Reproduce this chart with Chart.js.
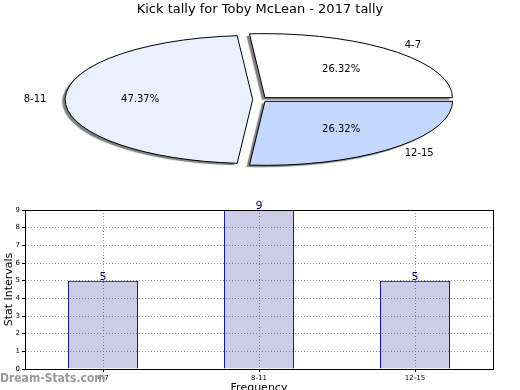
<!DOCTYPE html>
<html lang="en">
<head>
    <meta charset="UTF-8">
    <title>Kick tally</title>
    <script src="https://cdn.jsdelivr.net/npm/chart.js"></script>
    <style>
        html, body { margin:0; padding:0; background:#fff; overflow:hidden; }
        #wrap { position:relative; width:520px; height:390px; overflow:hidden; }
        #pieChart { position:absolute; left:0; top:0; }
        #barChart { position:absolute; left:0; top:195px; }
        #mark { position:absolute; left:0; top:371px; font:bold 12px "DejaVu Sans Condensed", "DejaVu Sans", sans-serif; color:#999; }
    </style>
</head>
<body>
<div id="wrap">
    <canvas id="pieChart" width="520" height="195"></canvas>
    <canvas id="barChart" width="520" height="200"></canvas>
    <div id="mark">Dream-Stats.com</div>
</div>

<script>
    // data
    const categories = ['4-7', '8-11', '12-15'];
    const tally = [5, 9, 5];
    const sliceColors = ['#ffffff', '#eaf1fe', '#c4d8fe'];
    const yTicks = [0, 1, 2, 3, 4, 5, 6, 7, 8, 9];

    const total = tally.reduce((a, b) => a + b, 0);
    const FONT = '"DejaVu Sans", sans-serif';

    // pie: drawn as a circle, stretched into an ellipse (x wide, y flipped so it runs counter-clockwise)
    const STRETCH = 2.93;
    const EXPLODE = 2.5;
    const toScreen = (cx, cy, x, y) => [cx + (x - cx) * STRETCH, cy - (y - cy)];
    const stretch = (ctx, arc) => {
        ctx.translate(arc.x, arc.y);
        ctx.scale(STRETCH, -1);
        ctx.translate(-arc.x, -arc.y);
    };

    const ellipsePlugin = {
        id: 'ellipse',
        beforeDatasetsDraw(chart) {
            const ctx = chart.ctx;
            const meta = chart.getDatasetMeta(0);
            // fills with a drop shadow
            meta.data.forEach((arc) => {
                const mid = (arc.startAngle + arc.endAngle) / 2;
                ctx.save();
                ctx.shadowColor = 'rgba(0,0,0,0.5)';
                ctx.shadowOffsetX = -3;
                ctx.shadowOffsetY = 2;
                ctx.shadowBlur = 1;
                stretch(ctx, arc);
                ctx.translate(EXPLODE * Math.cos(mid), EXPLODE * Math.sin(mid));
                arc.draw(ctx);
                ctx.restore();
            });
            // outlines, stroked in screen space so the line stays 1px
            meta.data.forEach((arc) => {
                const mid = (arc.startAngle + arc.endAngle) / 2;
                const ox = arc.x + EXPLODE * Math.cos(mid);
                const oy = arc.y + EXPLODE * Math.sin(mid);
                ctx.save();
                stretch(ctx, arc);
                ctx.beginPath();
                ctx.moveTo(ox, oy);
                ctx.arc(ox, oy, arc.outerRadius, arc.startAngle, arc.endAngle);
                ctx.closePath();
                ctx.restore();
                ctx.save();
                ctx.strokeStyle = '#000';
                ctx.lineWidth = 1;
                ctx.stroke();
                ctx.restore();
            });
            // labels
            ctx.save();
            ctx.fillStyle = '#000';
            ctx.font = '10px ' + FONT;
            ctx.textBaseline = 'middle';
            meta.data.forEach((arc, i) => {
                const mid = (arc.startAngle + arc.endAngle) / 2;
                const r = arc.outerRadius;
                let p = toScreen(arc.x, arc.y,
                    arc.x + (1.1 * r + EXPLODE) * Math.cos(mid),
                    arc.y + (1.1 * r + EXPLODE) * Math.sin(mid));
                ctx.textAlign = p[0] > arc.x ? 'left' : 'right';
                ctx.fillText(categories[i], p[0], p[1]);
                p = toScreen(arc.x, arc.y,
                    arc.x + (0.6 * r + EXPLODE) * Math.cos(mid),
                    arc.y + (0.6 * r + EXPLODE) * Math.sin(mid));
                ctx.textAlign = 'center';
                ctx.fillText((tally[i] / total * 100).toFixed(2) + '%', p[0], p[1]);
            });
            ctx.restore();
            return false;
        }
    };

    new Chart(document.querySelector('#pieChart').getContext('2d'), {
        type: 'pie',
        data: {
            labels: categories,
            datasets: [{
                data: tally,
                backgroundColor: sliceColors,
                borderWidth: 0,
                offset: 0,
                radius: 64
            }]
        },
        options: {
            responsive: false,
            animation: false,
            rotation: 90,
            layout: { padding: { top: 0, bottom: 17.6, left: 0, right: 0 } },
            plugins: {
                legend: { display: false },
                tooltip: { enabled: false },
                title: {
                    display: true,
                    text: 'Kick tally for Toby McLean - 2017 tally',
                    color: '#000',
                    font: { family: FONT, size: 13, weight: 'normal' },
                    padding: { top: 2, bottom: 4 }
                }
            }
        },
        plugins: [ellipsePlugin]
    });

    // bar chart
    const frameAndValues = {
        id: 'frameAndValues',
        afterDatasetsDraw(chart) {
            const ctx = chart.ctx;
            const a = chart.chartArea;
            ctx.save();
            ctx.strokeStyle = '#000';
            ctx.lineWidth = 1;
            ctx.strokeRect(Math.round(a.left) + 0.5, Math.round(a.top) + 0.5,
                Math.round(a.right - a.left), Math.round(a.bottom - a.top));
            ctx.fillStyle = '#00008b';
            ctx.font = '11px ' + FONT;
            ctx.textAlign = 'center';
            ctx.textBaseline = 'bottom';
            chart.getDatasetMeta(0).data.forEach((bar, i) => {
                ctx.fillText(String(tally[i]), bar.x, bar.y + 2);
            });
            ctx.restore();
        }
    };

    const dotted = {
        color: '#999999',
        lineWidth: 1,
        tickLength: 3,
        tickColor: '#000'
    };

    new Chart(document.querySelector('#barChart').getContext('2d'), {
        type: 'bar',
        data: {
            labels: categories,
            datasets: [{
                data: tally,
                backgroundColor: 'rgba(0,0,128,0.2)',
                borderColor: '#00008b',
                borderWidth: 1,
                barPercentage: 0.45,
                categoryPercentage: 1
            }]
        },
        options: {
            responsive: false,
            animation: false,
            layout: { padding: { top: 15, right: 27, left: 0, bottom: 0 } },
            plugins: { legend: { display: false }, tooltip: { enabled: false } },
            scales: {
                x: {
                    grid: Object.assign({ offset: false }, dotted),
                    border: { display: false, dash: [1, 2] },
                    ticks: { color: '#000', font: { family: FONT, size: 7 }, padding: 2 },
                    title: {
                        display: true, text: 'Frequency', color: '#000',
                        font: { family: FONT, size: 11 }, padding: { top: 0, bottom: 0 }
                    },
                    afterFit: (s) => { s.height = 26; }
                },
                y: {
                    min: 0,
                    max: 9,
                    afterBuildTicks: (s) => { s.ticks = yTicks.map((v) => ({ value: v })); },
                    grid: dotted,
                    border: { display: false, dash: [1, 2] },
                    ticks: { color: '#000', font: { family: FONT, size: 7 }, padding: 2 },
                    title: {
                        display: true, text: 'Stat Intervals', color: '#000',
                        font: { family: FONT, size: 11 }, padding: { top: 3, bottom: 0 }
                    },
                    afterFit: (s) => { s.width = 25; }
                }
            }
        },
        plugins: [frameAndValues]
    });
</script>
</body>
</html>
